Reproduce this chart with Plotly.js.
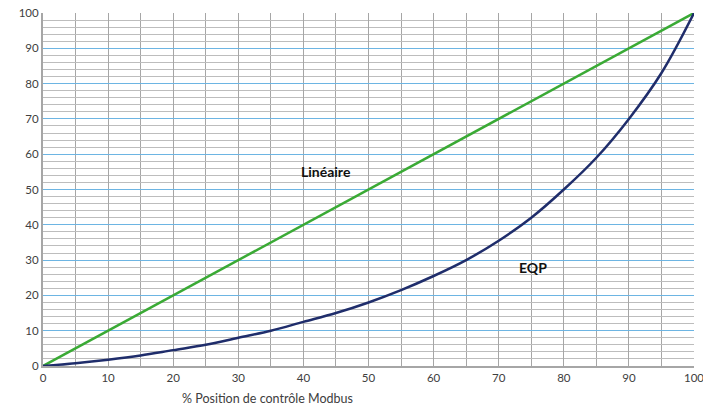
<!DOCTYPE html>
<html>
<head>
<meta charset="utf-8">
<script src="https://cdn.plot.ly/plotly-3.0.1.min.js"></script>
<style>html,body{margin:0;padding:0;background:#fff;}#chart{width:703px;height:411px;}</style>
</head>
<body>
<div id="chart"></div>
<script>
const positions = [0,5,10,15,20,25,30,35,40,45,50,55,60,65,70,75,80,85,90,95,100];
const linear = [0,5,10,15,20,25,30,35,40,45,50,55,60,65,70,75,80,85,90,95,100];
const eqp = [0,0.8,1.8,3,4.5,6,8,10,12.5,15,18,21.5,25.5,30,35.5,42,50,59,70,83,100];
const xTitle = '% Position de contrôle Modbus';
const labelLin = 'Linéaire';
const labelEqp = 'EQP';

const font = 'Lato, "Open Sans", sans-serif';
const traces = [
  {x: positions, y: linear, mode: 'lines', line: {color: '#3aaa35', width: 2.5}, hoverinfo: 'none'},
  {x: positions, y: eqp, mode: 'lines', line: {color: '#1f2d6b', width: 2.5, shape: 'spline'}, hoverinfo: 'none'}
];
const layout = {
  width: 703, height: 411,
  margin: {l: 43, r: 9, t: 13, b: 45},
  paper_bgcolor: '#fff', plot_bgcolor: '#fff',
  showlegend: false,
  font: {family: font, size: 11.5, color: '#404040'},
  xaxis: {
    range: [0, 100], dtick: 10, tick0: 0, showgrid: true, gridcolor: '#a6a6a6', gridwidth: 1,
    minor: {dtick: 5, showgrid: true, gridcolor: '#a6a6a6', gridwidth: 1},
    zeroline: false, showline: true, linecolor: '#a6a6a6', linewidth: 2, ticks: '', ticklen: 0,
    ticklabeloverflow: 'allow', fixedrange: true
  },
  yaxis: {
    range: [0, 100], dtick: 10, tick0: 0, showgrid: true, gridcolor: '#6db5e3', gridwidth: 1,
    minor: {dtick: 2, showgrid: true, gridcolor: '#bdbdbd', gridwidth: 1},
    zeroline: false, showline: true, linecolor: '#a6a6a6', linewidth: 2, ticks: '',
    fixedrange: true
  },
  annotations: [
    {xref: 'paper', yref: 'paper', x: 0.3456, y: -0.093, xanchor: 'center', yanchor: 'middle',
     text: xTitle, showarrow: false, font: {family: font, size: 12.5, color: '#404040'}},
    {x: 43.5, y: 55.2, text: '<b>' + labelLin + '</b>', showarrow: false, font: {family: font, size: 14, color: '#111'}},
    {x: 75.3, y: 28, text: '<b>' + labelEqp + '</b>', showarrow: false, font: {family: font, size: 14, color: '#111'}}
  ]
};
Plotly.newPlot('chart', traces, layout, {staticPlot: true});
</script>
</body>
</html>
